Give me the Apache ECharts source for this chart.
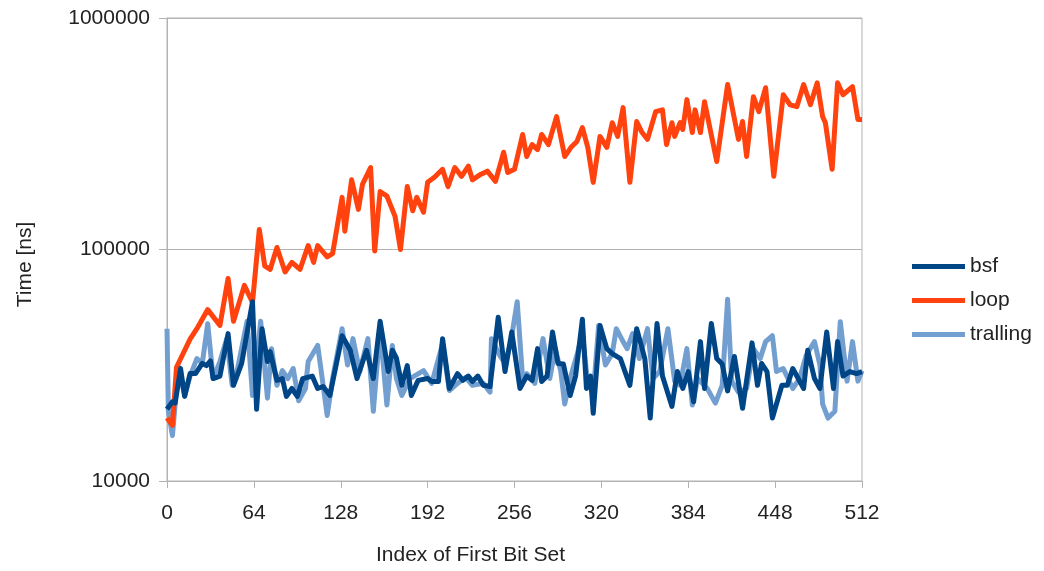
<!DOCTYPE html>
<html lang="en">
  <head>
    <meta charset="UTF-8" />
    <title>bsf vs loop vs tralling</title>
    <script src="https://cdn.jsdelivr.net/npm/echarts@6/dist/echarts.min.js"></script>
    <style>
      html, body { margin: 0; padding: 0; background: #fff; }
    </style>
  </head>
  <body>
    <div id="chart" style="width: 1044px; height: 571px"></div>
  </body>
  <script>
    // x ticks (index of the first bit set)
    const xTicks = [0, 64, 128, 192, 256, 320, 384, 448, 512];
    const seriesNames = ["bsf", "loop", "tralling"];

    // bsf
    const bsfIdx = [0, 4, 6, 10, 13, 17, 21, 26, 29, 32, 34, 39, 45, 49, 55, 63, 66, 70, 74, 76,
      81, 85, 88, 92, 96, 100, 107, 111, 115, 120, 129, 135, 140, 147, 152, 157, 163, 166, 169, 173,
      177, 180, 185, 192, 195, 200, 203, 208, 214, 218, 222, 225, 229, 233, 238, 244, 249, 254, 260, 265,
      269, 273, 276, 280, 284, 288, 292, 297, 301, 306, 309, 312, 314, 319, 324, 328, 334, 341, 346, 352,
      356, 361, 365, 372, 376, 380, 384, 388, 393, 396, 401, 405, 409, 413, 418, 424, 431, 435, 438, 442,
      446, 453, 457, 461, 469, 472, 477, 481, 486, 491, 494, 498, 503, 508, 512];
    const bsfTime = [20400, 22000, 21700, 30600, 23200, 29100, 29100, 32200, 31500, 33000,
      27700, 28400, 43300, 25900, 32200, 59500, 20400, 45500, 32800, 36200,
      27200, 27700, 23200, 25100, 23200, 27700, 28400, 25100, 25600, 23400,
      42400, 36700, 27700, 36700, 27700, 49000, 29700, 36700, 34000, 25900,
      31500, 23400, 27200, 27700, 26900, 26900, 41200, 25100, 29100, 27200,
      28400, 26900, 28400, 25900, 25600, 51000, 29700, 44000, 25100, 28400,
      27200, 37300, 26900, 28400, 44000, 32200, 32000, 23400, 28400, 50000,
      25100, 28400, 19600, 47000, 37300, 35500, 33800, 25900, 45500, 33800,
      18700, 47900, 28400, 21000, 29700, 25100, 29700, 22000, 40000, 25100,
      47900, 33800, 32000, 24500, 34500, 20600, 39500, 25900, 32200, 29700,
      18700, 25900, 25900, 30600, 25100, 36700, 27700, 25100, 44000, 25100,
      40000, 28400, 29700, 29100, 29700];

    // loop
    const loopIdx = [0, 4, 7, 17, 22, 30, 39, 45, 49, 57, 63, 68, 72, 76, 81, 87, 92, 98, 104, 108,
      111, 118, 122, 129, 131, 136, 141, 144, 150, 153, 157, 162, 168, 172, 177, 181, 184, 189, 192, 197,
      203, 207, 212, 217, 222, 225, 231, 236, 242, 248, 251, 256, 262, 265, 269, 273, 276, 281, 287, 293,
      298, 302, 306, 310, 314, 319, 324, 328, 332, 336, 341, 346, 350, 354, 360, 365, 368, 372, 374, 378,
      380, 383, 387, 389, 393, 396, 405, 413, 421, 424, 427, 432, 436, 441, 447, 454, 459, 464, 469, 474,
      479, 483, 485, 490, 494, 498, 505, 509, 512];
    const loopTime = [18700, 17400, 31000, 41000, 45500, 55000, 47000, 75000, 49000, 70000,
      59000, 122000, 85000, 82000, 102000, 80000, 88000, 82000, 104000, 88000,
      104000, 93000, 96000, 168000, 120000, 200000, 149000, 191000, 226000, 98600,
      178000, 170000, 139000, 100000, 187000, 147000, 168000, 145000, 195000, 205000,
      222000, 187000, 226000, 207000, 229000, 200000, 211000, 218000, 197000, 263000,
      215000, 222000, 314000, 252000, 284000, 270000, 314000, 284000, 375000, 252000,
      278000, 293000, 336000, 276000, 195000, 308000, 276000, 353000, 308000, 410000,
      195000, 357000, 320000, 299000, 394000, 401000, 284000, 353000, 308000, 353000,
      330000, 444000, 320000, 401000, 320000, 435000, 240000, 516000, 299000, 357000,
      252000, 457000, 394000, 500000, 207000, 466000, 422000, 414000, 516000, 422000,
      525000, 375000, 353000, 222000, 525000, 466000, 505000, 364000, 364000];

    // tralling
    const trallIdx = [0, 1, 4, 6, 8, 13, 17, 22, 26, 30, 34, 39, 44, 48, 52, 59, 63, 66, 69, 74,
      77, 81, 85, 89, 93, 97, 102, 104, 111, 113, 118, 122, 129, 133, 137, 142, 148, 152, 157, 162,
      166, 169, 173, 179, 189, 195, 203, 208, 214, 220, 225, 233, 238, 239, 245, 249, 253, 258, 262, 265,
      271, 277, 282, 286, 290, 293, 297, 302, 306, 310, 314, 318, 323, 328, 331, 336, 339, 343, 348, 354,
      358, 363, 369, 374, 378, 383, 387, 391, 398, 404, 409, 413, 416, 421, 427, 432, 437, 441, 446, 449,
      454, 461, 466, 471, 477, 481, 483, 487, 492, 496, 501, 505, 509, 512];
    const trallTime = [45500, 20000, 15700, 21500, 31700, 23400, 28400, 33800, 32200, 47800,
      27700, 32800, 41200, 25900, 30600, 49000, 23400, 32800, 49000, 22800,
      37300, 25900, 30000, 27700, 30600, 22200, 25100, 32800, 38500, 31700,
      19200, 27700, 45500, 31700, 41200, 29700, 41200, 20000, 45500, 21300,
      38500, 27700, 23400, 27700, 30000, 26400, 39200, 24600, 26400, 28000,
      25900, 26400, 24200, 41200, 35000, 32200, 39000, 59500, 27700, 29100,
      26400, 41200, 27700, 37300, 30000, 21500, 27700, 35000, 43300, 26400,
      23900, 47000, 31700, 35500, 45500, 40000, 37300, 43300, 33800, 45500,
      27700, 29700, 45500, 27000, 25900, 37300, 21300, 27700, 25100, 21700,
      25900, 61000, 27000, 24200, 25100, 37300, 33800, 40000, 42400, 29700,
      30600, 25100, 27700, 35000, 40000, 31700, 21500, 18700, 20000, 48800,
      27000, 40000, 27000, 30000];

    const colors = ["#004586", "#ff420e", "#729fcf"];
    const font = "Liberation Sans";

    function pairs(xs, ys) {
      return xs.map((x, i) => [x, ys[i]]);
    }

    let chart = echarts.init(document.getElementById("chart"));
    let option = {
      backgroundColor: "#fff",
      animation: false,
      textStyle: { fontFamily: font },
      grid: {
        left: 167, right: 182, top: 18, bottom: 88,
        show: true, borderColor: "#b3b3b3", borderWidth: 1,
      },
      legend: {
        orient: "vertical",
        left: 907,
        top: 251,
        icon: "rect",
        itemWidth: 53,
        itemHeight: 5,
        itemGap: 13,
        data: seriesNames,
        textStyle: { fontSize: 21, color: "#222", fontFamily: font },
      },
      xAxis: {
        type: "value",
        min: 0,
        max: 512,
        interval: 64,
        name: "Index of First Bit Set",
        nameLocation: "middle",
        nameGap: 64,
        nameTextStyle: { fontSize: 21, color: "#222", fontFamily: font, padding: [0, 88, 0, 0] },
        axisLine: { lineStyle: { color: "#b3b3b3" } },
        axisTick: { length: 7, lineStyle: { color: "#b3b3b3" } },
        splitLine: { show: false },
        axisLabel: {
          fontSize: 21, color: "#222", margin: 22, fontFamily: font,
          formatter: (v) => (xTicks.includes(v) ? String(v) : ""),
        },
      },
      yAxis: {
        type: "log",
        logBase: 10,
        min: 10000,
        max: 1000000,
        name: "Time [ns]",
        nameLocation: "middle",
        nameGap: 131,
        nameTextStyle: { fontSize: 21, color: "#222", fontFamily: font, padding: [0, 30, 0, 0] },
        axisLine: { show: true, lineStyle: { color: "#b3b3b3" } },
        axisTick: { show: true, length: 8, lineStyle: { color: "#b3b3b3" } },
        splitLine: { show: true, lineStyle: { color: "#b3b3b3" } },
        axisLabel: {
          fontSize: 21, color: "#222", margin: 17, fontFamily: font,
          formatter: (v) => String(Math.round(v)),
        },
      },
      series: [
        {
          name: "bsf", type: "line", z: 4, showSymbol: false, color: colors[0],
          lineStyle: { width: 5, color: colors[0], join: "round" },
          data: pairs(bsfIdx, bsfTime),
        },
        {
          name: "loop", type: "line", z: 3, showSymbol: false, color: colors[1],
          lineStyle: { width: 5, color: colors[1], join: "round" },
          data: pairs(loopIdx, loopTime),
        },
        {
          name: "tralling", type: "line", z: 2, showSymbol: false, color: colors[2],
          lineStyle: { width: 5, color: colors[2], join: "round" },
          data: pairs(trallIdx, trallTime),
        },
      ],
    };
    chart.setOption(option);
  </script>
</html>
